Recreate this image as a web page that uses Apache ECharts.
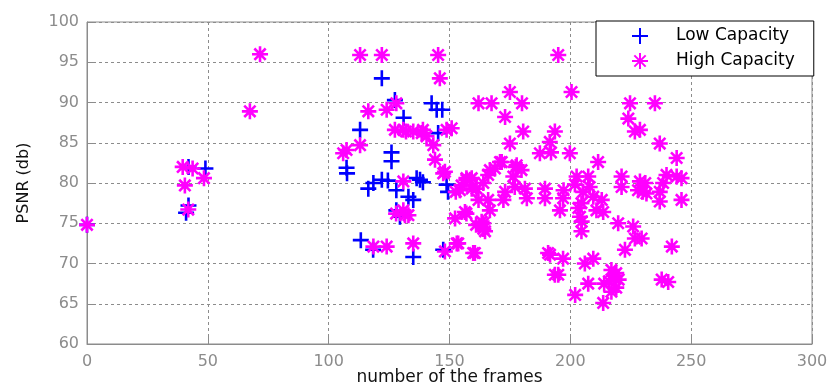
<!DOCTYPE html>
<html>
<head>
<meta charset="utf-8">
<script src="https://cdn.jsdelivr.net/npm/echarts@6/dist/echarts.min.js"></script>
<style>html,body{margin:0;padding:0;background:#fff;}#c{width:829px;height:387px;}</style>
</head>
<body>
<div id="c"></div>
<script>
var xTicks = [0, 50, 100, 150, 200, 250, 300];
var yTicks = [60, 65, 70, 75, 80, 85, 90, 95, 100];
var seriesNames = ['Low Capacity', 'High Capacity'];

var lowCapacity = [
  [0,74.8],[41,76.3],[42,77.2],[49,81.8],[42,82],
  [107.4,81.9],[107.6,81.2],[113,86.6],[113.3,72.9],[118.4,71.7],[122,93],
  [126,83.8],[126,82.7],[116.4,79.3],[118.5,80],[122,80.4],[124.5,80.3],[128,79.1],
  [133,78.3],[135,77.9],[136.4,80.6],[139,80.1],[135,70.8],[128,76.6],[129.5,75.8],
  [142.6,89.9],[144.7,89.1],[147,89.1],[131,88.1],[127.4,90.3],[145.3,86.2],
  [148.8,79.8],[149.4,78.9],[137.8,80.4],[147.4,71.7]
];

var highCapacity = [
  [0,74.8],[39.6,82],[43.7,81.8],[40.5,79.7],[48.4,80.6],[41.9,76.7],[67.4,88.9],[71.6,96],
  [113,95.9],[122,95.9],[145.3,95.9],[146,93],[116.4,88.9],[124,89.1],[128,89.9],
  [127.4,86.6],[130.9,86.6],[135,86.4],[138.5,86.2],[140.5,85.8],[150.9,86.8],[148.8,86.6],
  [113,84.7],[107.4,84.1],[106,83.7],[143.3,84.7],[144,82.9],[148.1,81.4],[130.9,80.2],
  [155,79.7],[157,80.4],[159.2,79.3],[152.6,78.9],[130.9,76.6],[133,76],[127.9,76.2],
  [152.3,75.6],[156.4,76.4],[118.5,72.1],[124,72.1],[135,72.5],[148.1,71.5],[153,72.5],
  [159.8,71.3],[161,74.8],[162,89.9],
  [195,95.9],[200.5,91.3],[167.4,89.9],[175,91.3],[180,89.9],[173,88.2],[180.5,86.4],
  [175,84.9],[193.6,86.4],[191.5,85.1],[187.4,83.7],[192,83.8],[199.8,83.7],[211.5,82.6],
  [171.6,82.6],[168.8,81.8],[177.8,82.2],[179.8,81.6],[166,81],[159.2,80.6],[164,80],
  [176.4,80.8],[161.2,79.3],[166,77.9],[173,78.9],[181.2,79.3],[189.5,79.3],[197,78.1],
  [197.2,79.1],[202.6,80.8],[207.4,80.8],[205.3,78.9],[209.5,78.3],[213,77.9],[203.3,76.9],
  [204.7,75.2],[221.2,80.8],[228.8,80.2],[231,80],[237,78.9],[219.8,75],[226,74.6],
  [226.7,73.1],[222.6,71.7],[164,75],[164,74.3],[160.5,71.3],[191.6,71.1],[197,70.6],
  [195,68.6],[206,70],[209.5,70.6],[207.4,67.5],[202,66.1],[213.6,65.1],[217,69.2],
  [218,68.5],[216,67.8],[219,67],[217,66.5],[220,68],[214,67.5],[219,68.8],[237.8,68],
  [235,89.9],[224.7,89.9],[224,88],[226.7,86.4],[228.8,86.6],[237,84.9],[244,83.1],
  [239.8,81],[244,80.8],[246,80.6],[238.4,80],[230,78.9],[237,77.7],[246,77.9],
  [229.5,73.1],[242,72.1],[240.5,67.7],
  [201.9,79.8],[208,79.5],[221.2,79.5],[228,79.1],[231.5,78.7],[195.7,76.6],[204.6,77.5],
  [210.8,76.6],[213.6,76.4],[204,75.8],[204.6,74],
  [132,86.4],[139,86.6],[147.4,81.2],[157,80.6],[166.7,81.6],[170.9,82.6],[177.4,82],
  [158.5,80.4],[154.3,79.1],[162,77.9],[166.7,76.6],[172.3,77.9],[177,79.5],[182,78.1],
  [189.5,78.1],[157,76.2],[163.3,75.2],[164.7,74],[153.6,72.5],[131.6,76],[190.8,71.3],
  [193.6,68.6]
];

var PLUS = 'path://M-10,0L10,0M0,-10L0,10';
var STAR = 'path://M-10,0L10,0M0,-10L0,10M-7.07,-7.07L7.07,7.07M-7.07,7.07L7.07,-7.07';

var chart = echarts.init(document.getElementById('c'), null, {renderer: 'canvas'});
var fontFam = 'DejaVu Sans';
chart.setOption({
  animation: false,
  backgroundColor: '#ffffff',
  grid: {left: 87, right: 17, top: 22, bottom: 43, outerBoundsMode: 'none', containLabel: false,
         show: true, borderColor: '#8c8c8c', borderWidth: 1, backgroundColor: 'transparent'},
  legend: {
    data: seriesNames,
    orient: 'vertical',
    left: 596, top: 21,
    padding: [6, 19, 6, 35],
    itemWidth: 16, itemHeight: 16, itemGap: 7,
    backgroundColor: '#ffffff',
    borderColor: '#000000', borderWidth: 1,
    textStyle: {fontFamily: fontFam, fontSize: 17, color: '#000', padding: [0, 0, 0, 23]}
  },
  xAxis: {
    type: 'value', min: xTicks[0], max: xTicks[xTicks.length - 1], interval: 50,
    name: 'number of the frames', nameLocation: 'middle', nameGap: 25, nameMoveOverlap: false,
    nameTextStyle: {fontFamily: fontFam, fontSize: 17, color: '#111'},
    axisLine: {show: true, onZero: false, lineStyle: {color: '#8c8c8c', width: 1}},
    axisTick: {show: true, inside: true, length: 8, lineStyle: {color: '#8c8c8c'}},
    axisLabel: {fontFamily: fontFam, fontSize: 16, color: '#8c8c8c', margin: 10},
    splitLine: {show: true, lineStyle: {color: '#8c8c8c', type: [3, 3], width: 1}}
  },
  yAxis: {
    type: 'value', min: yTicks[0], max: yTicks[yTicks.length - 1], interval: 5,
    name: 'PSNR (db)', nameLocation: 'middle', nameGap: 55, nameMoveOverlap: false,
    nameTextStyle: {fontFamily: fontFam, fontSize: 16, color: '#111'},
    axisLine: {show: true, lineStyle: {color: '#8c8c8c', width: 1}},
    axisTick: {show: true, inside: true, length: 8, lineStyle: {color: '#8c8c8c'}},
    axisLabel: {fontFamily: fontFam, fontSize: 16, color: '#8c8c8c', margin: 8},
    splitLine: {show: true, lineStyle: {color: '#8c8c8c', type: [3, 3], width: 1}}
  },
  series: [
    {
      name: seriesNames[0], type: 'scatter', data: lowCapacity,
      symbol: PLUS, symbolSize: 16,
      itemStyle: {color: 'rgba(0,0,0,0)', borderColor: '#0000ff', borderWidth: 2.6, opacity: 1},
      emphasis: {disabled: true}
    },
    {
      name: seriesNames[1], type: 'scatter', data: highCapacity,
      symbol: STAR, symbolSize: 16,
      itemStyle: {color: 'rgba(0,0,0,0)', borderColor: '#ff00ff', borderWidth: 2.6, opacity: 1},
      emphasis: {disabled: true}
    }
  ]
});
</script>
</body>
</html>
